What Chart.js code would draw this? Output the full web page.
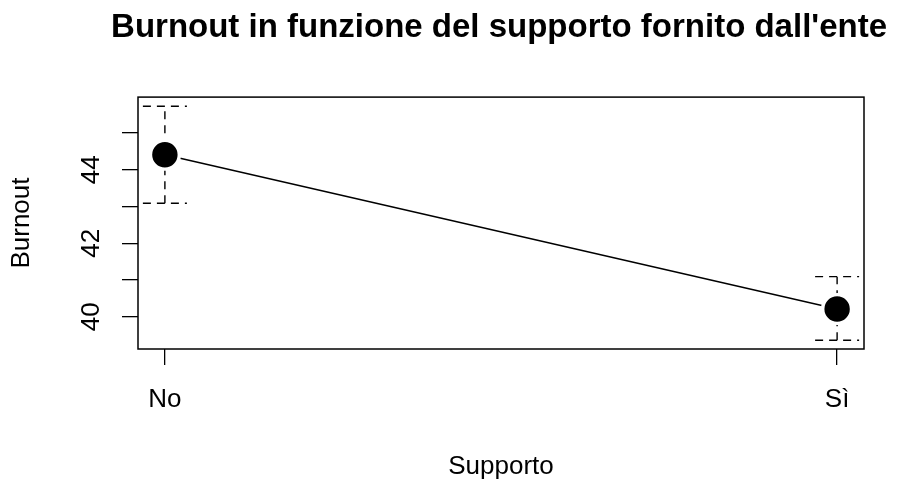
<!DOCTYPE html>
<html>
<head>
<meta charset="utf-8">
<title>Burnout in funzione del supporto</title>
<script src="https://cdn.jsdelivr.net/npm/chart.js@4/dist/chart.umd.min.js"></script>
<style>
  html, body { margin: 0; padding: 0; background: #fff; }
  #wrap { width: 899px; height: 483px; }
</style>
</head>
<body>
<div id="wrap"><canvas id="myChart" width="899" height="483"></canvas></div>
<script>
// categorie e medie con intervalli
const supportLevels = ['No', 'Sì'];
const burnoutMean = [44.41, 40.21];
const burnoutUpper = [45.73, 41.09];
const burnoutLower = [43.09, 39.36];

// tacche asse y (etichette solo ogni 2)
const yTicks = [40, 41, 42, 43, 44, 45];
const yTickLabels = ['40', '', '42', '', '44', ''];

const FONT = '"Liberation Sans", Arial, Helvetica, sans-serif';

// barre d'errore tratteggiate + riquadro del grafico
const errorBars = {
    id: 'errorBars',
    beforeDatasetsDraw(chart) {
        const ctx = chart.ctx;
        const xs = chart.scales.x, ys = chart.scales.y;
        ctx.save();
        ctx.strokeStyle = '#000';
        ctx.lineWidth = 1.4;
        ctx.setLineDash([8, 6]);
        supportLevels.forEach((lab, i) => {
            const px = xs.getPixelForValue(i + 1);
            const top = ys.getPixelForValue(burnoutUpper[i]);
            const bot = ys.getPixelForValue(burnoutLower[i]);
            ctx.beginPath();
            ctx.moveTo(px, bot);
            ctx.lineTo(px, top);
            ctx.moveTo(px - 22, top);
            ctx.lineTo(px + 22, top);
            ctx.moveTo(px - 22, bot);
            ctx.lineTo(px + 22, bot);
            ctx.stroke();
        });
        ctx.restore();
    },
    afterDraw(chart) {
        const a = chart.chartArea;
        const ctx = chart.ctx;
        ctx.save();
        ctx.strokeStyle = '#000';
        ctx.lineWidth = 1.5;
        ctx.strokeRect(a.left, a.top, a.right - a.left, a.bottom - a.top);
        ctx.restore();
    }
};

const ctx = document.getElementById('myChart').getContext('2d');
const myChart = new Chart(ctx, {
    type: 'line',
    data: {
        datasets: [{
            label: 'Burnout',
            data: burnoutMean.map((v, i) => ({ x: i + 1, y: v })),
            borderColor: '#000',
            borderWidth: 1.4,
            pointRadius: 14.4,
            pointHoverRadius: 14.4,
            pointBackgroundColor: '#000',
            pointBorderColor: '#fff',
            pointBorderWidth: 3.4,
            tension: 0
        }]
    },
    options: {
        responsive: false,
        animation: false,
        events: [],
        layout: { padding: { left: 0, right: 12, top: 0, bottom: 0 } },
        plugins: {
            legend: { display: false },
            tooltip: { enabled: false },
            title: {
                display: true,
                align: 'end',
                text: "Burnout in funzione del supporto fornito dall'ente",
                color: '#000',
                font: { family: FONT, size: 33, weight: 'bold', lineHeight: 1.2 },
                padding: { top: 8.5, bottom: 49 }
            }
        },
        scales: {
            x: {
                type: 'linear',
                min: 0.96,
                max: 2.04,
                afterBuildTicks(scale) {
                    scale.ticks = supportLevels.map((_, i) => ({ value: i + 1 }));
                },
                afterFit(scale) { scale.height = 134; },
                border: { display: false },
                grid: {
                    drawOnChartArea: false,
                    drawTicks: true,
                    tickLength: 16,
                    color: '#000',
                    lineWidth: 1.3
                },
                ticks: {
                    color: '#000',
                    font: { family: FONT, size: 26 },
                    padding: 19,
                    maxRotation: 0,
                    callback: (v) => supportLevels[Math.round(v) - 1]
                },
                title: {
                    display: true,
                    text: 'Supporto',
                    color: '#000',
                    font: { family: FONT, size: 26 },
                    padding: { top: 0, bottom: 1 }
                }
            },
            y: {
                type: 'linear',
                min: 39.12,
                max: 45.98,
                afterBuildTicks(scale) {
                    scale.ticks = yTicks.map(v => ({ value: v }));
                },
                afterFit(scale) { scale.width = 138; },
                border: { display: false },
                grid: {
                    drawOnChartArea: false,
                    drawTicks: true,
                    tickLength: 16,
                    color: '#000',
                    lineWidth: 1.3
                },
                ticks: {
                    color: '#000',
                    font: { family: FONT, size: 26 },
                    padding: 16,
                    minRotation: 90,
                    maxRotation: 90,
                    crossAlign: 'center',
                    callback: (v) => yTickLabels[yTicks.indexOf(v)]
                },
                title: {
                    display: true,
                    text: 'Burnout',
                    color: '#000',
                    font: { family: FONT, size: 26 },
                    padding: { top: 6, bottom: 0 }
                }
            },
            // margine destro vuoto
            yRight: {
                type: 'linear',
                position: 'right',
                min: 39.12,
                max: 45.98,
                afterFit(scale) { scale.width = 23; },
                border: { display: false },
                grid: { display: false },
                ticks: { display: false }
            }
        }
    },
    plugins: [errorBars]
});
</script>
</body>
</html>
